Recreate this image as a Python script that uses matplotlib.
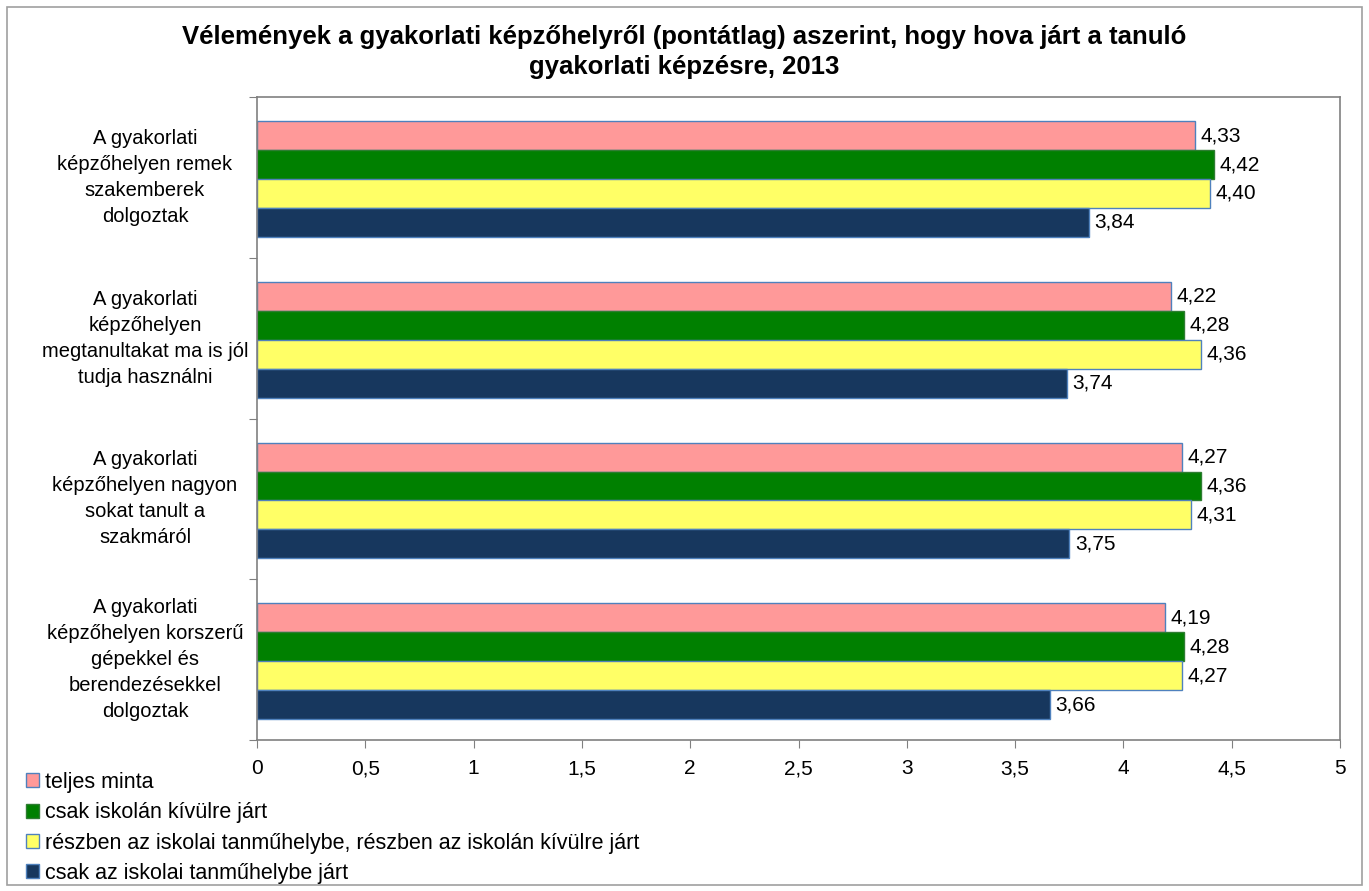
import matplotlib
matplotlib.use("Agg")
import matplotlib.pyplot as plt
from matplotlib.patches import Patch, Rectangle
from matplotlib.transforms import blended_transform_factory

plt.rcParams['font.family'] = ['Liberation Sans', 'DejaVu Sans']

title = "Vélemények a gyakorlati képzőhelyről (pontátlag) aszerint, hogy hova járt a tanuló\ngyakorlati képzésre, 2013"
categories = [
    "A gyakorlati\nképzőhelyen remek\nszakemberek\ndolgoztak",
    "A gyakorlati\nképzőhelyen\nmegtanultakat ma is jól\ntudja használni",
    "A gyakorlati\nképzőhelyen nagyon\nsokat tanult a\nszakmáról",
    "A gyakorlati\nképzőhelyen korszerű\ngépekkel és\nberendezésekkel\ndolgoztak",
]
series_names = [
    "teljes minta",
    "csak iskolán kívülre járt",
    "részben az iskolai tanműhelybe, részben az iskolán kívülre járt",
    "csak az iskolai tanműhelybe járt",
]
teljes = [4.33, 4.22, 4.27, 4.19]
kivul = [4.42, 4.28, 4.36, 4.28]
reszben = [4.40, 4.36, 4.31, 4.27]
tanmuhely = [3.84, 3.74, 3.75, 3.66]
xticks = [0, 0.5, 1, 1.5, 2, 2.5, 3, 3.5, 4, 4.5, 5]

values = [teljes, kivul, reszben, tanmuhely]
colors = ['#FF9999', '#008000', '#FFFF66', '#17375E']
edges = ['#4F81BD', '#2E7D32', '#4F81BD', '#4F81BD']

W, H = 1369, 891
fig = plt.figure(figsize=(W / 100, H / 100), dpi=100)
fig.patches.append(Rectangle((7 / W, 1 - 885 / H), (1362 - 7) / W, (885 - 7) / H,
                             transform=fig.transFigure, fill=False,
                             edgecolor='#A0A0A0', linewidth=1.2))

ax = fig.add_axes([257 / W, 1 - 740 / H, (1340 - 257) / W, (740 - 97) / H])

bh = 0.18
for i, (vals, c, ec) in enumerate(zip(values, colors, edges)):
    ys = [k + (i - 1.5) * bh + 0.01 for k in range(len(categories))]
    ax.barh(ys, vals, height=bh, color=c, edgecolor=ec, linewidth=1.0,
            label=series_names[i])
    for y, v in zip(ys, vals):
        ax.annotate(f"{v:.2f}".replace('.', ','), (v, y), xytext=(4, 0),
                    textcoords='offset points', va='center', ha='left', fontsize=15)

ax.set_xlim(0, 5)
ax.set_ylim(len(categories) - 0.5, -0.5)
ax.set_xticks(xticks)
ax.set_xticklabels([f"{t:g}".replace('.', ',') for t in xticks], fontsize=15)
ax.tick_params(axis='x', direction='out', length=6, color='#808080', pad=8)

ax.set_yticks([k - 0.5 for k in range(len(categories) + 1)])
ax.set_yticklabels([])
ax.tick_params(axis='y', direction='out', length=6, color='#808080')

for s in ax.spines.values():
    s.set_color('#808080')
    s.set_linewidth(1.2)

tr = blended_transform_factory(fig.transFigure, ax.transData)
for k, lab in enumerate(categories):
    ax.text(145 / W, k, lab, transform=tr, ha='center', va='center',
            multialignment='center', fontsize=14.5, linespacing=1.47)

fig.text(0.5, 1 - 52 / H, title, ha='center', va='center', fontsize=18.5,
         fontweight='bold', linespacing=1.3)

handles = [Patch(facecolor=c, edgecolor=ec, linewidth=1.0) for c, ec in zip(colors, edges)]
fig.legend(handles, series_names, loc='upper left', bbox_to_anchor=(26 / W, 1 - 772 / H),
           frameon=False, fontsize=15.5, handlelength=0.62, handleheight=0.62,
           handletextpad=0.25, labelspacing=0.43, borderaxespad=0, borderpad=0)

fig.savefig("out.png", dpi=100)
